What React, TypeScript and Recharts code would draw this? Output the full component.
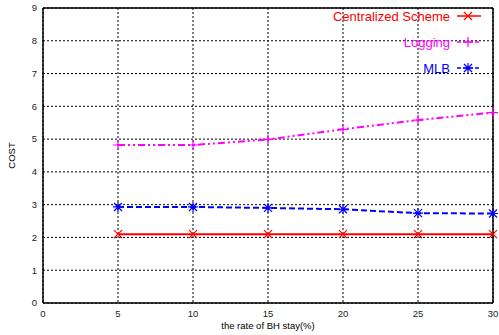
import { LineChart, Line, XAxis, YAxis, CartesianGrid, ReferenceLine } from 'recharts'

const rates = [5, 10, 15, 20, 25, 30]
const centralized = [2.1, 2.1, 2.1, 2.1, 2.1, 2.1]
const logging = [4.82, 4.82, 4.99, 5.3, 5.58, 5.81]
const mlb = [2.93, 2.93, 2.9, 2.86, 2.74, 2.73]
const xTicks = [0, 5, 10, 15, 20, 25, 30]
const yTicks = [0, 1, 2, 3, 4, 5, 6, 7, 8, 9]

const data = rates.map((r, i) => ({ rate: r, centralized: centralized[i], logging: logging[i], mlb: mlb[i] }))

const font = '"Liberation Sans", Arial, sans-serif'

function Cross({ cx, cy, color }: { cx: number; cy: number; color: string }) {
    const s = 4
    return <path d={`M${cx - s},${cy - s}L${cx + s},${cy + s}M${cx - s},${cy + s}L${cx + s},${cy - s}`} stroke={color} strokeWidth={1.2} fill="none" />
}

function Plus({ cx, cy, color }: { cx: number; cy: number; color: string }) {
    const s = 5
    return <path d={`M${cx - s},${cy}L${cx + s},${cy}M${cx},${cy - s}L${cx},${cy + s}`} stroke={color} strokeWidth={1.2} fill="none" />
}

function Star({ cx, cy, color }: { cx: number; cy: number; color: string }) {
    const s = 4
    return (
        <path
            d={`M${cx - s},${cy - s}L${cx + s},${cy + s}M${cx - s},${cy + s}L${cx + s},${cy - s}M${cx - s - 1},${cy}L${cx + s + 1},${cy}M${cx},${cy - s - 1}L${cx},${cy + s + 1}`}
            stroke={color}
            strokeWidth={1.2}
            fill="none"
        />
    )
}

const series = [
    { key: 'centralized', name: 'Centralized Scheme', color: '#ff0000', dash: undefined, Mark: Cross },
    { key: 'logging', name: 'Logging', color: '#ff00ff', dash: '7 3 2 3 2 3', Mark: Plus },
    { key: 'mlb', name: 'MLB', color: '#0000ff', dash: '6 3', Mark: Star },
]

export default function App() {
    return (
        <div style={{ position: 'absolute', left: 0, top: 0, width: 499, height: 335, background: '#fff' }}>
            <LineChart width={499} height={335} data={data} margin={{ top: 8, right: 6, left: 0, bottom: 0 }}>
                <CartesianGrid stroke="#000" strokeDasharray="2 2" strokeWidth={1} />
                <XAxis
                    dataKey="rate"
                    type="number"
                    domain={[0, 30]}
                    ticks={xTicks}
                    height={32}
                    tickLine={false}
                    tickSize={4}
                    tickMargin={3}
                    axisLine={{ stroke: '#000', strokeWidth: 1.5 }}
                    tick={{ fontSize: 9.5, fill: '#222', fontFamily: font }}
                    label={{ value: 'the rate of BH stay(%)', position: 'insideBottom', offset: 6, style: { fontSize: 9.5, fill: '#000', fontFamily: font } }}
                />
                <YAxis
                    type="number"
                    domain={[0, 9]}
                    ticks={yTicks}
                    width={43}
                    tickLine={false}
                    tickSize={4}
                    tickMargin={2}
                    axisLine={{ stroke: '#000', strokeWidth: 1.5 }}
                    tick={{ fontSize: 9.5, fill: '#222', fontFamily: font }}
                    label={{ value: 'COST', angle: -90, position: 'insideLeft', offset: 12, style: { fontSize: 9.5, fill: '#000', fontFamily: font, textAnchor: 'middle' } }}
                />
                <ReferenceLine x={30} stroke="#000" strokeWidth={1.5} />
                <ReferenceLine y={9} stroke="#000" strokeWidth={1.5} />
                {series.map((s) => (
                    <Line
                        key={s.key}
                        dataKey={s.key}
                        type="linear"
                        stroke={s.color}
                        strokeWidth={2}
                        strokeDasharray={s.dash}
                        isAnimationActive={false}
                        dot={(p: any) => <s.Mark key={`${s.key}-${p.index}`} cx={p.cx} cy={p.cy} color={s.color} />}
                        activeDot={false}
                    />
                ))}
            </LineChart>
            <svg width={499} height={90} style={{ position: 'absolute', left: 0, top: 0, pointerEvents: 'none' }}>
                {series.map((s, i) => {
                    const y = 16 + i * 26
                    return (
                        <g key={s.key}>
                            <text x={450} y={y} dy="0.35em" textAnchor="end" fill={s.color} fontSize={13} fontFamily={font}>
                                {s.name}
                            </text>
                            <line x1={457} x2={481} y1={y} y2={y} stroke={s.color} strokeWidth={1.5} strokeDasharray={s.dash ? '4 2' : undefined} />
                            <s.Mark cx={468} cy={y} color={s.color} />
                        </g>
                    )
                })}
            </svg>
        </div>
    )
}
